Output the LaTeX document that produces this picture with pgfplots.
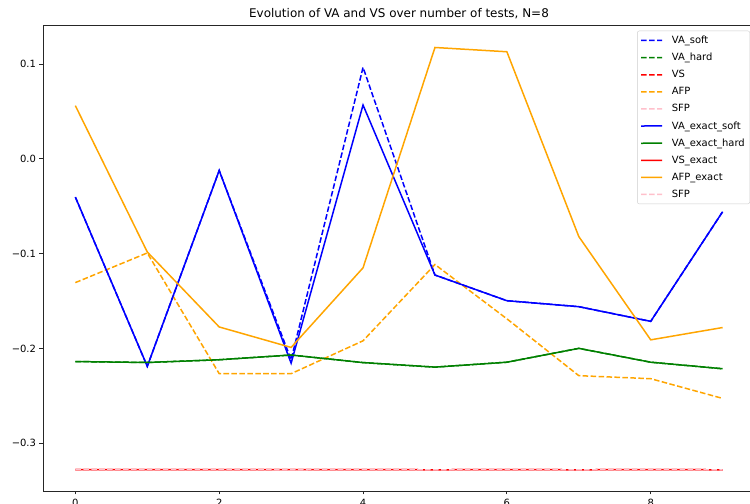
\documentclass[border=0pt]{standalone}
\usepackage{fontspec}
\setmainfont{DejaVu Sans}
\usepackage{pgfplots}
\pgfplotsset{compat=1.18}
\definecolor{mplblue}{RGB}{0,0,255}
\definecolor{mplgreen}{RGB}{0,128,0}
\definecolor{mplred}{RGB}{255,0,0}
\definecolor{mplorange}{RGB}{255,165,0}
\definecolor{mplpink}{RGB}{255,192,203}
\tikzset{dashpat/.style={dash pattern=on 5.55bp off 2.4bp}}
\begin{document}
\begin{tikzpicture}
\path[use as bounding box] (0,0) rectangle (750bp,504bp);
\begin{axis}[
  at={(43bp,13bp)}, anchor=south west,
  scale only axis, width=712bp, height=465.3bp,
  xmin=-0.45, xmax=9.45, ymin=-0.3505, ymax=0.1405,
  axis line style={black!85, line width=0.8bp},
  xtick pos=bottom, ytick pos=left,
  xtick={0,2,4,6,8}, xticklabels={0,2,4,6,8},
  ytick={-0.3,-0.2,-0.1,0,0.1}, yticklabels={−0.3,−0.2,−0.1,0.0,0.1},
  tick align=outside, major tick length=3.5bp,
  every tick/.style={black!85, line width=0.8bp},
  tick label style={font=\fontsize{10}{12}\selectfont},
  xticklabel style={yshift=-1bp},
  title={Evolution of VA and VS over number of tests, N=8},
  title style={font=\fontsize{12}{14}\selectfont, at={(0.5,1)}, anchor=base, yshift=2.5bp},
  legend style={at={(1,1)}, xshift=-5bp, yshift=-5bp, anchor=north east,
    font=\fontsize{10}{12}\selectfont, draw=black!20, rounded corners=2bp,
    fill=white, inner xsep=3bp, inner ysep=3bp, row sep=4.2bp,
    /tikz/every odd column/.append style={column sep=7bp}},
  legend cell align=left,
  legend image code/.code={\draw[#1] (0bp,0bp) -- (21bp,0.02bp);},
  every axis plot/.append style={line width=1.5bp},
]
% dashed series
\addplot[color=mplblue, dashpat] coordinates {(0,-0.0404) (1,-0.219) (2,-0.0123) (3,-0.212) (4,0.0965) (5,-0.1226) (6,-0.1497) (7,-0.156) (8,-0.1715) (9,-0.0558)};
\addlegendentry{VA\_soft}
\addplot[color=mplgreen, dashpat] coordinates {(0,-0.2139) (1,-0.2149) (2,-0.212) (3,-0.207) (4,-0.215) (5,-0.2198) (6,-0.2146) (7,-0.200) (8,-0.2146) (9,-0.2215)};
\addlegendentry{VA\_hard}
\addplot[color=mplred, dashpat] coordinates {(0,-0.3280) (1,-0.3279) (2,-0.3280) (3,-0.3279) (4,-0.3280) (5,-0.3281) (6,-0.3280) (7,-0.3281) (8,-0.3280) (9,-0.3281)};
\addlegendentry{VS}
\addplot[color=mplorange, dashpat] coordinates {(0,-0.1306) (1,-0.0993) (2,-0.2267) (3,-0.2267) (4,-0.192) (5,-0.1115) (6,-0.1688) (7,-0.2288) (8,-0.232) (9,-0.2528)};
\addlegendentry{AFP}
\addplot[color=mplpink, dashpat] coordinates {(0,-0.3280) (1,-0.3279) (2,-0.3280) (3,-0.3281) (4,-0.3280) (5,-0.3281) (6,-0.3280) (7,-0.3281) (8,-0.3280) (9,-0.3281)};
\addlegendentry{SFP}
% solid series
\addplot[color=mplblue] coordinates {(0,-0.0404) (1,-0.219) (2,-0.0123) (3,-0.2156) (4,0.0568) (5,-0.1226) (6,-0.1497) (7,-0.156) (8,-0.1715) (9,-0.0558)};
\addlegendentry{VA\_exact\_soft}
\addplot[color=mplgreen] coordinates {(0,-0.2139) (1,-0.2149) (2,-0.212) (3,-0.207) (4,-0.215) (5,-0.2198) (6,-0.2146) (7,-0.200) (8,-0.2146) (9,-0.2215)};
\addlegendentry{VA\_exact\_hard}
\addplot[color=mplred] coordinates {(0,-0.3280) (1,-0.3279) (2,-0.3280) (3,-0.3279) (4,-0.3280) (5,-0.3281) (6,-0.3280) (7,-0.3281) (8,-0.3280) (9,-0.3281)};
\addlegendentry{VS\_exact}
\addplot[color=mplorange] coordinates {(0,0.0561) (1,-0.0983) (2,-0.1774) (3,-0.199) (4,-0.115) (5,0.1175) (6,0.113) (7,-0.082) (8,-0.191) (9,-0.178)};
\addlegendentry{AFP\_exact}
\addplot[color=mplpink, dashpat] coordinates {(0,-0.3280) (1,-0.3279) (2,-0.3280) (3,-0.3281) (4,-0.3280) (5,-0.3281) (6,-0.3280) (7,-0.3281) (8,-0.3280) (9,-0.3281)};
\addlegendentry{SFP}
\end{axis}
\end{tikzpicture}
\end{document}
